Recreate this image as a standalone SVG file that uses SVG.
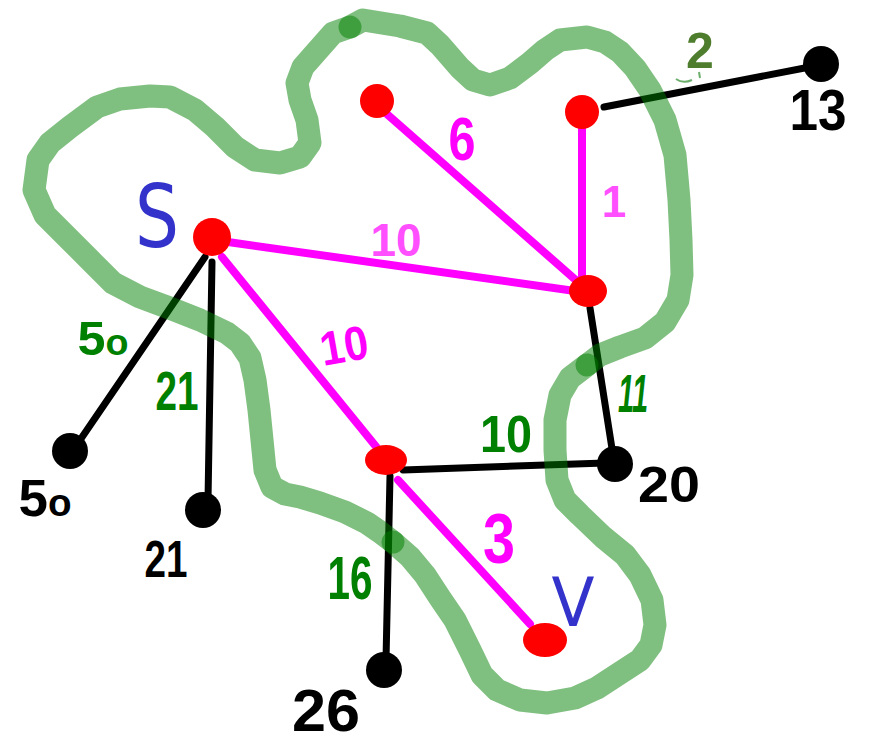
<svg xmlns="http://www.w3.org/2000/svg" width="877" height="749" viewBox="0 0 877 749">
<style>
.pk{stroke:#ff00ff;stroke-width:8;stroke-linecap:round;fill:none}
.bk{stroke:#000;stroke-width:7;stroke-linecap:round;fill:none}
.blob{stroke:#008000;stroke-opacity:0.5;stroke-width:23;stroke-linecap:round;stroke-linejoin:round;fill:none}
.red{fill:#ff0000}
.dot{fill:#000}
.hw{font-family:"Liberation Sans",Arial,sans-serif;font-weight:bold;text-anchor:middle}
.lt{font-family:"DejaVu Sans","Liberation Sans",sans-serif;font-weight:normal;text-anchor:middle}
.ty{font-family:"Liberation Sans",Arial,sans-serif;font-weight:bold;text-anchor:middle}
</style>
<rect width="877" height="749" fill="#fff"/>
<g id="connectors">
<line class="pk" x1="228" y1="242" x2="582" y2="292"/>
<line class="pk" x1="380" y1="108" x2="578" y2="282"/>
<line class="pk" x1="582" y1="128" x2="582" y2="282"/>
<line class="pk" x1="222" y1="257" x2="378" y2="449"/>
<line class="pk" x1="398" y1="480" x2="530" y2="624"/>
<line class="bk" x1="604" y1="107" x2="815" y2="66"/>
<line class="bk" x1="590" y1="308" x2="613" y2="455"/>
<line class="bk" x1="403" y1="470" x2="605" y2="463"/>
<line class="bk" x1="390" y1="476" x2="386" y2="660"/>
<line class="bk" x1="205" y1="257" x2="76" y2="446"/>
<line class="bk" x1="212" y1="262" x2="208" y2="500"/>
</g>
<g id="node-s"><circle class="red" cx="212" cy="237" r="19"/><text class="lt" x="157" y="247" font-size="88" textLength="44" lengthAdjust="spacingAndGlyphs" fill="#3333cc">S</text></g>
<g id="node-a"><circle class="red" cx="377" cy="101" r="17"/></g>
<g id="node-b"><circle class="red" cx="582" cy="112" r="17"/></g>
<g id="node-c"><ellipse class="red" cx="588" cy="291" rx="19" ry="16"/></g>
<g id="node-d"><ellipse class="red" cx="386" cy="460" rx="21" ry="15"/></g>
<g id="node-v"><ellipse class="red" cx="545" cy="640" rx="22" ry="17"/><text class="lt" x="573" y="626" font-size="68" textLength="43" lengthAdjust="spacingAndGlyphs" fill="#3333cc">V</text></g>
<g id="node-13"><circle class="dot" cx="821" cy="64" r="18"/><text class="ty" x="818" y="130" font-size="58" textLength="57" lengthAdjust="spacingAndGlyphs">13</text></g>
<g id="node-20"><circle class="dot" cx="615" cy="464" r="18"/><text class="hw" x="669" y="502" font-size="50" textLength="62" lengthAdjust="spacingAndGlyphs">20</text></g>
<g id="node-50"><circle class="dot" cx="70" cy="451" r="18"/><text class="hw" x="45" y="516" font-size="52" textLength="53" lengthAdjust="spacingAndGlyphs">5<tspan font-size="38">o</tspan></text></g>
<g id="node-21"><circle class="dot" cx="203" cy="510" r="18"/><text class="hw" x="166" y="577" font-size="52" textLength="43" lengthAdjust="spacingAndGlyphs">21</text></g>
<g id="node-26"><circle class="dot" cx="384" cy="670" r="18"/><text class="hw" x="326" y="731" font-size="60" textLength="68" lengthAdjust="spacingAndGlyphs">26</text></g>
<g id="labels">
<text class="ty" x="396" y="256" font-size="46" fill="#ff4fff">10</text>
<text class="ty" x="614" y="217" font-size="44" fill="#ff4fff">1</text>
<text class="hw" x="462" y="160" font-size="62" textLength="27" lengthAdjust="spacingAndGlyphs" fill="#ff00ff">6</text>
<text class="hw" x="344" y="362" font-size="48" textLength="48" lengthAdjust="spacingAndGlyphs" fill="#ff00ff" transform="rotate(-10 344 345)">10</text>
<text class="hw" x="499" y="563" font-size="70" textLength="32" lengthAdjust="spacingAndGlyphs" fill="#ff00ff">3</text>
<text class="ty" x="700" y="68" font-size="50" fill="#4e7d2e">2</text>
<path d="M676,79 Q683,84 692,80 M699,72 L700,78" stroke="#2e8b2e" stroke-width="2" fill="none" opacity="0.7"/>
<text class="hw" x="103" y="355" font-size="48" textLength="51" lengthAdjust="spacingAndGlyphs" fill="#008000">5<tspan font-size="36">o</tspan></text>
<text class="hw" x="177" y="410" font-size="56" textLength="43" lengthAdjust="spacingAndGlyphs" fill="#008000">21</text>
<text class="hw" x="350" y="599" font-size="62" textLength="45" lengthAdjust="spacingAndGlyphs" fill="#008000">16</text>
<text class="hw" x="506" y="452" font-size="52" textLength="52" lengthAdjust="spacingAndGlyphs" fill="#008000">10</text>
<text class="hw" x="633" y="412" font-size="54" textLength="30" lengthAdjust="spacingAndGlyphs" fill="#008000" font-style="italic">11</text>
</g>
<g id="region">
<polyline class="blob" points="350,27 363,20 400,26 427,33 440,45 460,68 473,80 490,85 510,78 530,63 545,50 560,40 587,37 605,42 620,52 635,68 650,90 665,120 675,155 679,200 681,240 682,275 678,300 665,322 645,338 620,347 600,355 587,365"/>
<polyline class="blob" points="587,365 570,378 560,395 555,420 555,450 557,480 565,500 580,515 603,537 625,555 640,575 652,600 655,625 651,645 640,660 620,673 597,688 575,698 547,703 520,700 497,690 482,675 470,650 455,620 440,598 425,575 410,557 393,542"/>
<polyline class="blob" points="393,542 380,532 367,523 345,512 320,503 300,497 285,494 272,487 265,470 262,440 259,410 255,380 250,358 240,343 227,333 200,320 167,307 140,297 113,283 90,260 67,237 45,215 34,190 38,160 50,143 70,127 97,107 120,99 150,96 170,97 195,110 215,127 235,147 255,160 280,163 300,157 310,143 307,120 300,100 297,83 303,67 318,50 333,33 350,27"/>
</g>
</svg>
